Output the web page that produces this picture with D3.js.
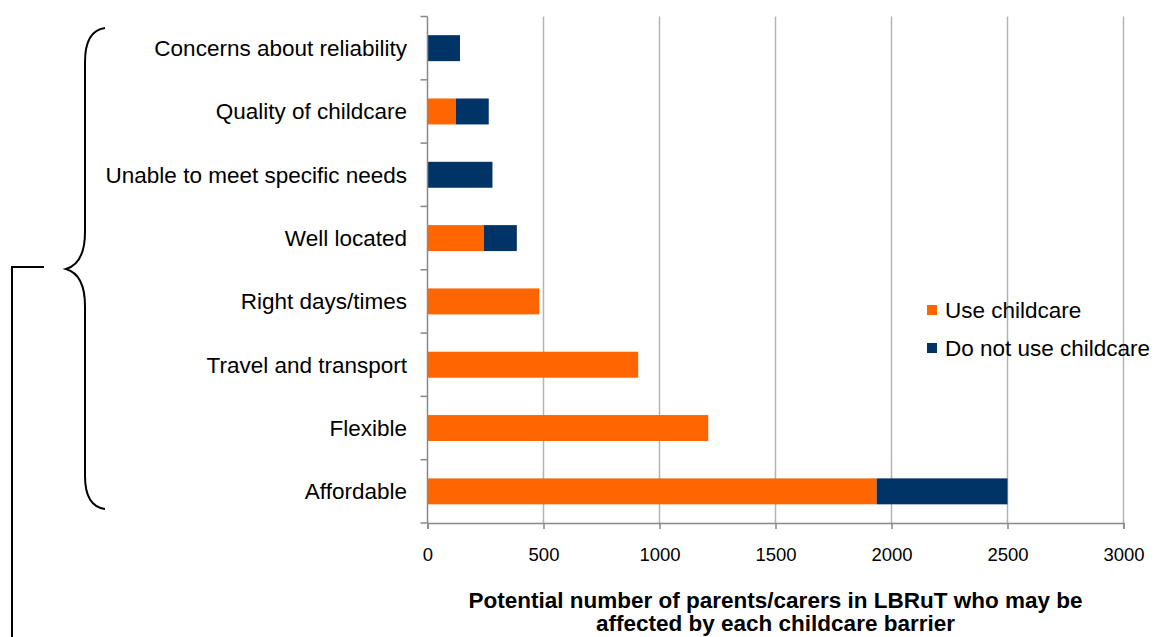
<!DOCTYPE html>
<html>
<head>
<meta charset="utf-8">
<script src="https://cdn.jsdelivr.net/npm/d3@7/dist/d3.min.js"></script>
<style>
  html, body { margin: 0; padding: 0; background: #fff; }
  svg { display: block; }
  text { font-family: "Liberation Sans", Arial, sans-serif; fill: #000; }
</style>
</head>
<body>
<svg id="chart" width="1154" height="637"></svg>
<script>
// Childcare barriers, top to bottom
const categories = [
  "Concerns about reliability",
  "Quality of childcare",
  "Unable to meet specific needs",
  "Well located",
  "Right days/times",
  "Travel and transport",
  "Flexible",
  "Affordable"
];
const useChildcare =    [0,   122, 0,   243, 482, 908, 1210, 1936];
const notUseChildcare = [140, 142, 280, 142, 0,   0,   0,    564];
const seriesNames = ["Use childcare", "Do not use childcare"];
const seriesColors = ["#FF6600", "#003366"];
const xTicks = [0, 500, 1000, 1500, 2000, 2500, 3000];
const axisTitle = [
  "Potential number of parents/carers in LBRuT who may be",
  "affected by each childcare barrier"
];

const svg = d3.select("#chart");

const plot = { left: 427.5, right: 1123.5, top: 16.5, bottom: 523 };

const x = d3.scaleLinear().domain([0, 3000]).range([plot.left, plot.right]);
const y = d3.scaleBand()
  .domain(categories)
  .range([plot.top, plot.bottom])
  .paddingInner(0.59)
  .paddingOuter(0.295);

// vertical gridlines
svg.append("g")
  .selectAll("line")
  .data(xTicks.filter(d => d > 0))
  .join("line")
  .attr("x1", d => x(d)).attr("x2", d => x(d))
  .attr("y1", plot.top).attr("y2", plot.bottom)
  .attr("stroke", "#b4b4b4")
  .attr("stroke-width", 1.5);

// stacked bars
const rows = categories.map((c, i) => ({ c, use: useChildcare[i], notUse: notUseChildcare[i] }));
const stack = d3.stack().keys(["use", "notUse"])(rows);

svg.append("g")
  .selectAll("g")
  .data(stack)
  .join("g")
  .attr("fill", (d, i) => seriesColors[i])
  .selectAll("rect")
  .data(d => d.filter(p => p[1] > p[0]))
  .join("rect")
  .attr("x", p => x(p[0]))
  .attr("width", p => x(p[1]) - x(p[0]))
  .attr("y", p => y(p.data.c))
  .attr("height", y.bandwidth());

// x axis
const xAxis = d3.axisBottom(x).tickValues(xTicks).tickSize(6).tickPadding(19).tickFormat(d3.format("d"));
const gx = svg.append("g").attr("transform", `translate(0,${plot.bottom})`).call(xAxis);
gx.select(".domain").attr("stroke", "#888").attr("stroke-width", 1.5);
gx.selectAll(".tick line").attr("stroke", "#888").attr("stroke-width", 1.5);
gx.selectAll(".tick text")
  .attr("font-family", "Liberation Sans, Arial, sans-serif")
  .attr("font-size", 18.5)
  .attr("fill", "#000");

// y axis: line plus ticks at category boundaries
const step = y.step();
const boundaries = d3.range(categories.length + 1).map(i => plot.top + i * step);
svg.append("line")
  .attr("x1", plot.left).attr("x2", plot.left)
  .attr("y1", plot.top).attr("y2", plot.bottom)
  .attr("stroke", "#888").attr("stroke-width", 1.5);
svg.append("g")
  .selectAll("line")
  .data(boundaries)
  .join("line")
  .attr("x1", plot.left - 7).attr("x2", plot.left)
  .attr("y1", d => d).attr("y2", d => d)
  .attr("stroke", "#888").attr("stroke-width", 1.5);

// category labels
svg.append("g")
  .selectAll("text")
  .data(categories)
  .join("text")
  .attr("x", 407)
  .attr("y", d => y(d) + y.bandwidth() / 2)
  .attr("dy", "0.35em")
  .attr("text-anchor", "end")
  .attr("font-size", 22.5)
  .text(d => d);

// axis title
svg.append("g")
  .selectAll("text")
  .data(axisTitle)
  .join("text")
  .attr("x", (plot.left + plot.right) / 2)
  .attr("y", (d, i) => 608 + i * 23)
  .attr("text-anchor", "middle")
  .attr("font-size", 22.5)
  .attr("font-weight", "bold")
  .text(d => d);

// legend
const legend = svg.append("g")
  .selectAll("g")
  .data(seriesNames)
  .join("g")
  .attr("transform", (d, i) => `translate(927,${305 + i * 38})`);
legend.append("rect")
  .attr("width", 10).attr("height", 10)
  .attr("fill", (d, i) => seriesColors[i]);
legend.append("text")
  .attr("x", 18).attr("y", 5)
  .attr("dy", "0.35em")
  .attr("font-size", 22.5)
  .text(d => d);

// grouping brace and connector
svg.append("path")
  .attr("d", "M105,28 C90,30 85,45 85,62 L85,232 C85,256 76,266 66,269 C76,272 85,282 85,306 L85,476 C85,493 90,507 105,509")
  .attr("fill", "none").attr("stroke", "#000").attr("stroke-width", 2);
svg.append("path")
  .attr("d", "M44,267 H12 V637")
  .attr("fill", "none").attr("stroke", "#000").attr("stroke-width", 2);
</script>
</body>
</html>
